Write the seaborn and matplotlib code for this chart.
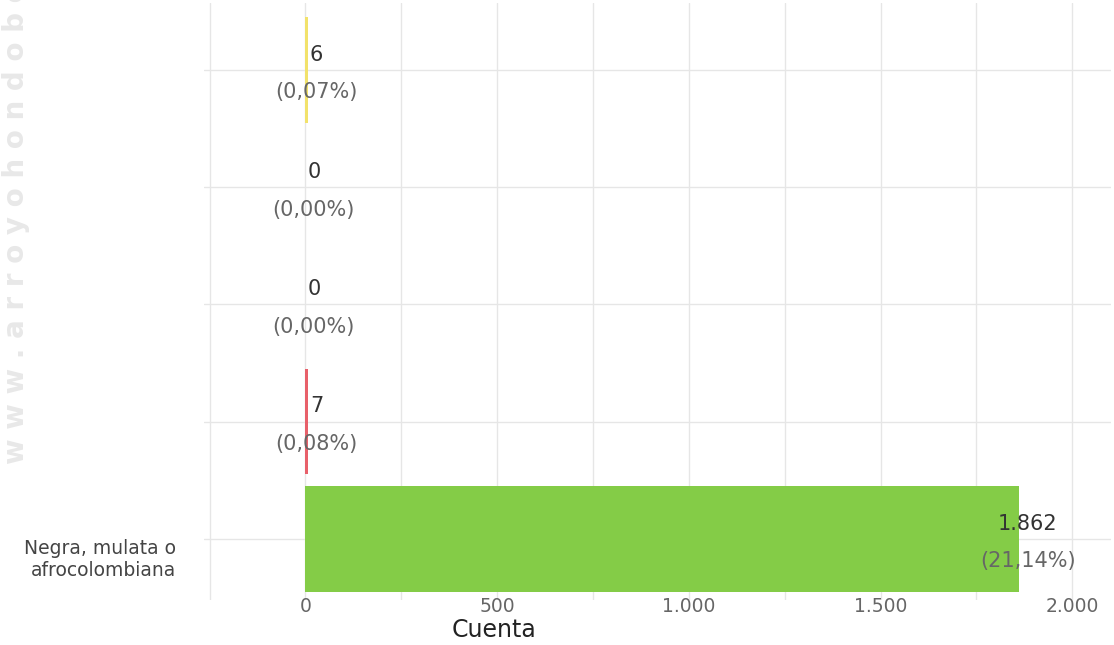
import matplotlib.pyplot as plt
import matplotlib.ticker as ticker
import pandas as pd
import seaborn as sns

# categories top to bottom; only the last one shows a label in the chart
categorias = [
    "Indígena",
    "Gitano(a) o Rrom",
    "Raizal del Archipiélago",
    "Palenquero(a) de San Basilio",
    "Negra, mulata o afrocolombiana",
]
etiquetas_y = ["", "", "", "", "Negra, mulata o\nafrocolombiana"]
cuenta = [6, 0, 0, 7, 1862]
porcentaje = ["0,07%", "0,00%", "0,00%", "0,08%", "21,14%"]
colores = ["#f2e26b", "#bbbbbb", "#bbbbbb", "#e8606a", "#84cc47"]


def miles(x, pos):
    return f"{int(x):,}".replace(",", ".")


def main():
    df = pd.DataFrame({"categoria": categorias, "cuenta": cuenta})

    sns.set_theme(style="white")
    plt.rcParams["font.family"] = ["DejaVu Sans"]

    fig = plt.figure(figsize=(11.14, 6.45), dpi=100)
    ax = fig.add_axes([0.183, 0.07, 0.814, 0.925])

    sns.barplot(data=df, x="cuenta", y="categoria", hue="categoria",
                palette=colores, width=0.9, legend=False, ax=ax, saturation=1,
                linewidth=0)

    ax.set_xlim(-265, 2100)
    ax.set_ylim(4.52, -0.57)
    ax.xaxis.set_major_locator(ticker.MultipleLocator(500))
    ax.xaxis.set_minor_locator(ticker.MultipleLocator(250))
    ax.xaxis.set_major_formatter(ticker.FuncFormatter(miles))
    ax.grid(True, which="both", axis="x", color="#e6e6e6", linewidth=1)
    ax.grid(True, axis="y", color="#e6e6e6", linewidth=1)
    ax.set_axisbelow(True)
    for s in ax.spines.values():
        s.set_visible(False)

    ax.set_yticks(range(len(categorias)))
    ax.set_yticklabels(etiquetas_y, fontsize=13.5, color="#444444")
    ax.tick_params(axis="y", length=8, color="#e6e6e6", pad=12)
    ax.tick_params(axis="x", which="both", length=0, pad=-2, labelsize=13.5,
                   labelcolor="#666666")
    for lab in ax.get_yticklabels():
        lab.set_horizontalalignment("right")
        lab.set_multialignment("right")
        lab.set_verticalalignment("top")

    ax.set_ylabel("")
    ax.set_xlabel("Cuenta", fontsize=17, color="#222222")
    ax.xaxis.set_label_coords(0.32, -0.03)

    for i, (v, p) in enumerate(zip(cuenta, porcentaje)):
        ax.text(v + 22, i - 0.13, miles(v, None), ha="center", va="center",
                fontsize=15, color="#333333")
        ax.text(v + 22, i + 0.19, f"({p})", ha="center", va="center",
                fontsize=15, color="#666666")

    fig.text(0.014, 0.28, "w w w . a r r o y o h o n d o b o l i v a r . g o v . c o",
             rotation=90, fontsize=20, color="#e8e8e8", fontweight="bold",
             ha="center", va="bottom")

    fig.savefig("out.png", dpi=100)


if __name__ == "__main__":
    main()
